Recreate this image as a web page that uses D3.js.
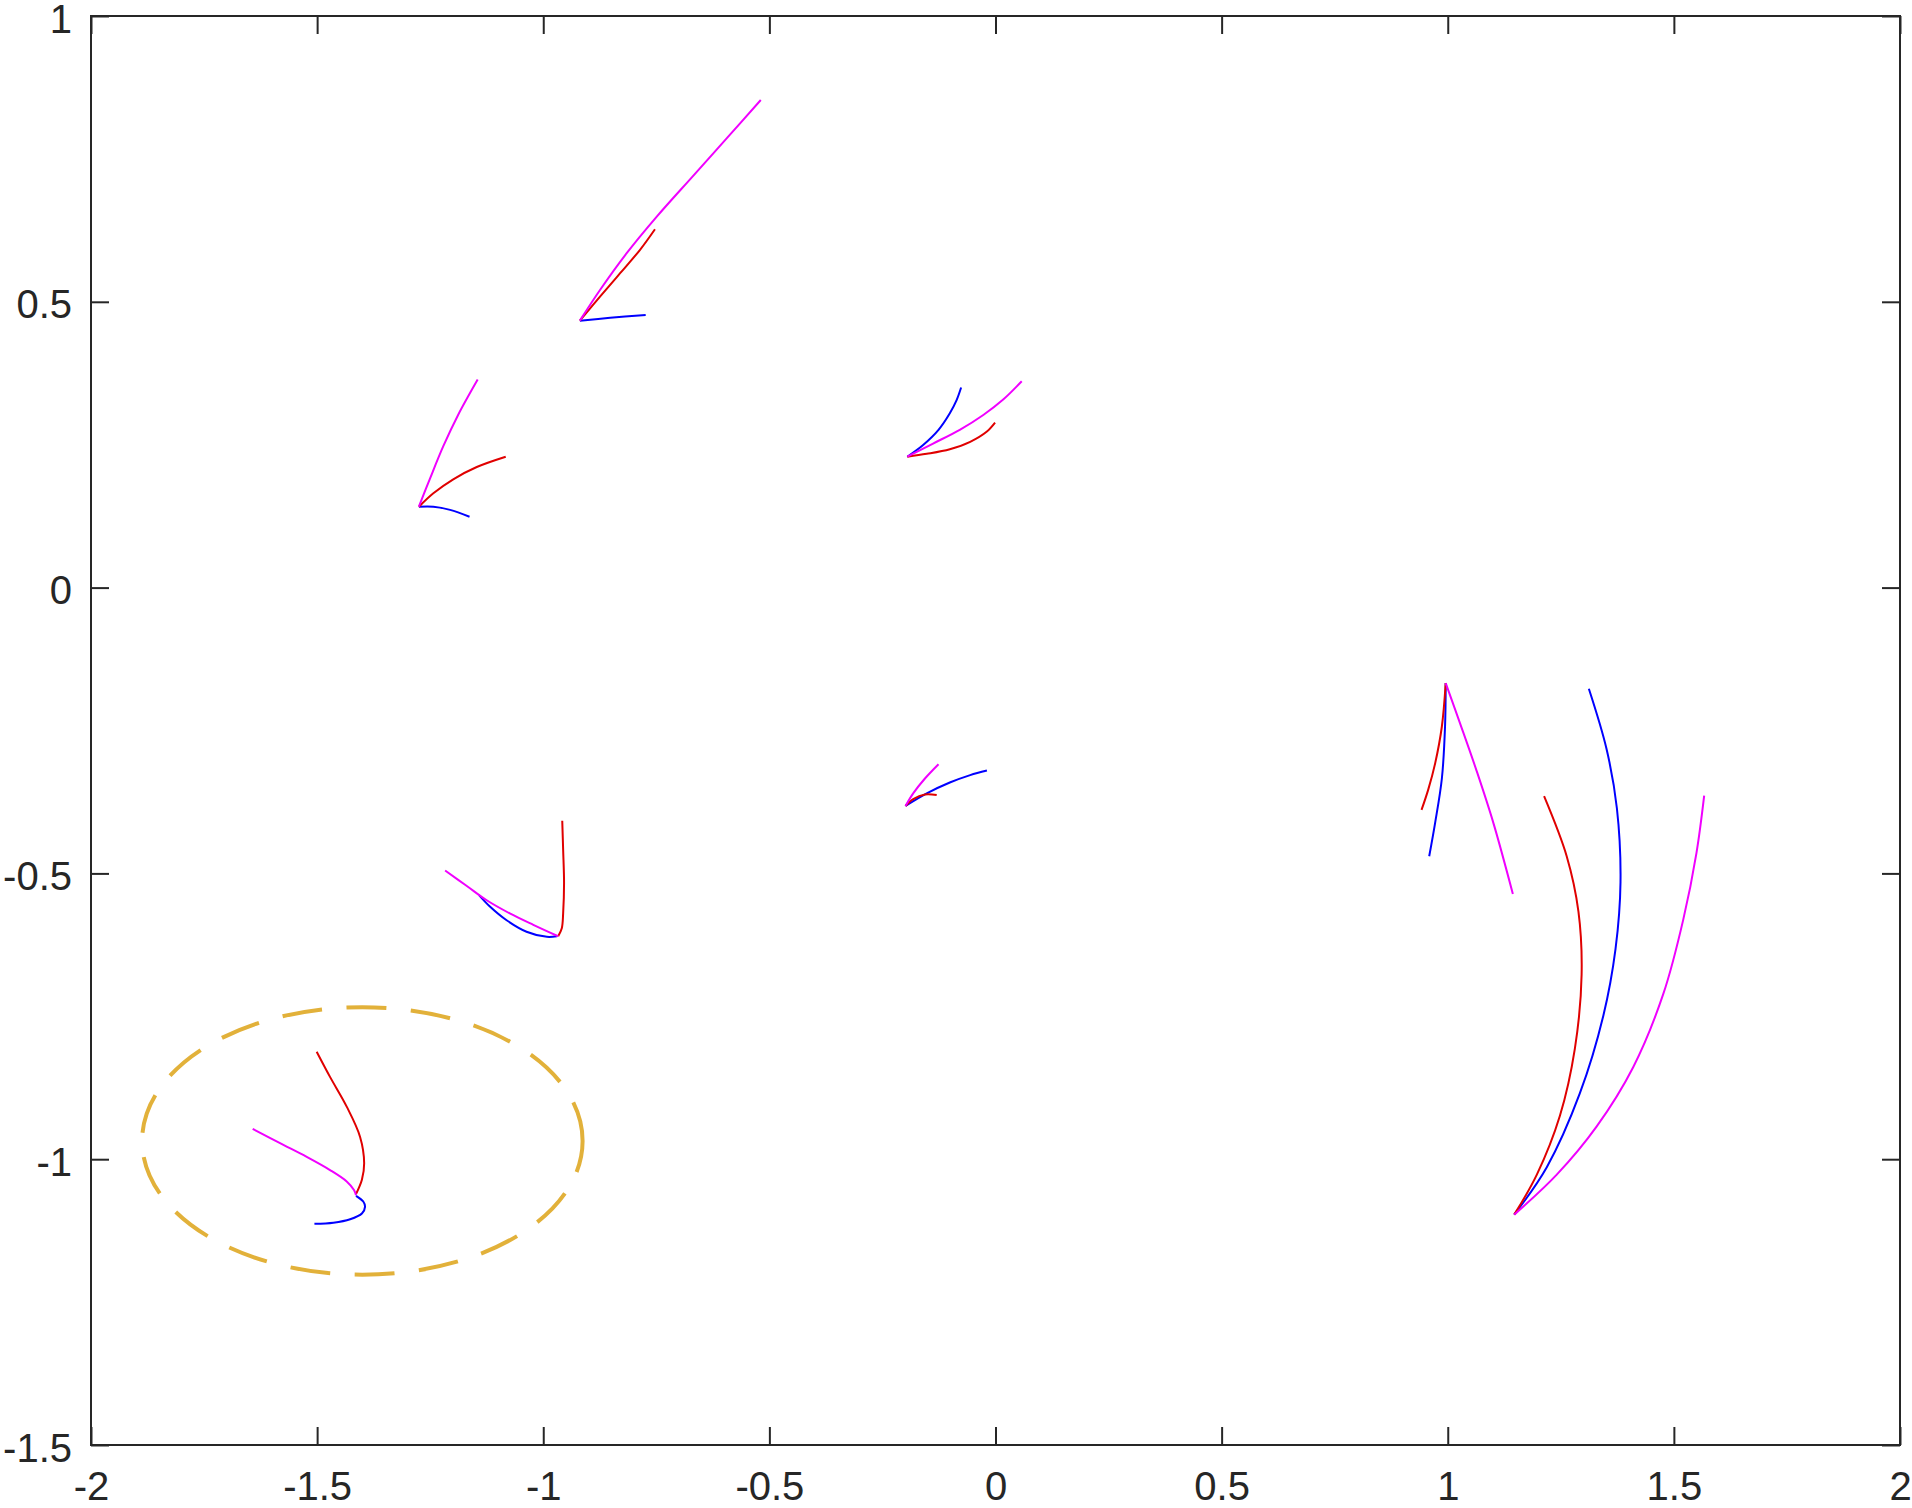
<!DOCTYPE html>
<html>
<head>
<meta charset="utf-8">
<script src="https://cdn.jsdelivr.net/npm/d3@7"></script>
<style>
  html, body { margin: 0; padding: 0; background: #fff; }
  svg { display: block; }
  text { font-family: 'Liberation Sans', Arial, Helvetica, sans-serif; }
</style>
</head>
<body>
<svg width="1912" height="1508"></svg>
<script>
const xTicks = [-2, -1.5, -1, -0.5, 0, 0.5, 1, 1.5, 2]
const xTickLabels = ['-2', '-1.5', '-1', '-0.5', '0', '0.5', '1', '1.5', '2']
const yTicks = [-1.5, -1, -0.5, 0, 0.5, 1]
const yTickLabels = ['-1.5', '-1', '-0.5', '0', '0.5', '1']

// each trajectory starts at the shared corner point of its group
const bluePaths = [
  [[-1.414, -1.064], [-1.398, -1.074], [-1.394, -1.083], [-1.401, -1.095], [-1.427, -1.105], [-1.464, -1.111], [-1.506, -1.113]],
  [[-0.970, -0.610], [-0.992, -0.611], [-1.037, -0.602], [-1.081, -0.582], [-1.118, -0.558], [-1.142, -0.538]],
  [[-0.199, -0.382], [-0.152, -0.360], [-0.101, -0.341], [-0.056, -0.328], [-0.019, -0.320]],
  [[-0.195, 0.229], [-0.160, 0.2495], [-0.126, 0.276], [-0.101, 0.305], [-0.086, 0.328], [-0.076, 0.350]],
  [[-1.275, 0.1415], [-1.243, 0.1415], [-1.206, 0.136], [-1.163, 0.124]],
  [[-0.919, 0.467], [-0.852, 0.472], [-0.7735, 0.477]],
  [[0.9955, -0.167], [0.994, -0.243], [0.987, -0.334], [0.972, -0.412], [0.959, -0.470]],
  [[1.147, -1.097], [1.219, -1.014], [1.292, -0.885], [1.344, -0.749], [1.371, -0.632], [1.382, -0.515], [1.374, -0.386], [1.351, -0.282], [1.312, -0.177]]
]
const redPaths = [
  [[-1.414, -1.061], [-1.401, -1.036], [-1.396, -1.007], [-1.405, -0.961], [-1.4346, -0.908], [-1.4715, -0.856], [-1.501, -0.812]],
  [[-0.967, -0.610], [-0.959, -0.596], [-0.956, -0.570], [-0.954, -0.517], [-0.956, -0.459], [-0.958, -0.408]],
  [[-0.199, -0.382], [-0.182, -0.370], [-0.156, -0.362], [-0.130, -0.363]],
  [[-0.195, 0.229], [-0.152, 0.234], [-0.101, 0.242], [-0.056, 0.255], [-0.019, 0.273], [-0.001, 0.2885]],
  [[-1.275, 0.1415], [-1.243, 0.165], [-1.199, 0.1895], [-1.147, 0.211], [-1.083, 0.229]],
  [[-0.919, 0.467], [-0.8745, 0.509], [-0.830, 0.550], [-0.786, 0.591], [-0.753, 0.627]],
  [[0.9955, -0.167], [0.987, -0.243], [0.972, -0.308], [0.957, -0.353], [0.942, -0.389]],
  [[1.147, -1.097], [1.197, -1.027], [1.248, -0.924], [1.281, -0.807], [1.296, -0.677], [1.289, -0.567], [1.263, -0.470], [1.213, -0.365]]
]
const magentaPaths = [
  [[-1.414, -1.063], [-1.4185, -1.054], [-1.4346, -1.039], [-1.4715, -1.019], [-1.523, -0.996], [-1.582, -0.972], [-1.6425, -0.947]],
  [[-0.967, -0.610], [-1.022, -0.590], [-1.074, -0.570], [-1.125, -0.547], [-1.169, -0.522], [-1.217, -0.495]],
  [[-0.199, -0.382], [-0.182, -0.360], [-0.156, -0.334], [-0.126, -0.309]],
  [[-0.195, 0.229], [-0.138, 0.252], [-0.079, 0.276], [-0.027, 0.302], [0.017, 0.329], [0.058, 0.361]],
  [[-1.275, 0.1415], [-1.250, 0.1916], [-1.221, 0.2474], [-1.188, 0.3025], [-1.145, 0.364]],
  [[-0.919, 0.467], [-0.8745, 0.5206], [-0.8155, 0.585], [-0.749, 0.649], [-0.668, 0.7208], [-0.594, 0.7862], [-0.519, 0.853]],
  [[0.9955, -0.167], [1.027, -0.237], [1.064, -0.321], [1.101, -0.412], [1.144, -0.536]],
  [[1.147, -1.097], [1.241, -1.027], [1.329, -0.943], [1.410, -0.839], [1.477, -0.710], [1.521, -0.580], [1.550, -0.464], [1.567, -0.364]]
]

const ellipseCenter = [-1.4, -0.968]
const ellipseRadii = [0.487, 0.234]

const svg = d3.select('svg')
const margin = { top: 16, right: 12, bottom: 63, left: 91 }
const width = 1912 - margin.left - margin.right
const height = 1508 - margin.top - margin.bottom

const x = d3.scaleLinear().domain([-2, 2]).range([0, width])
const y = d3.scaleLinear().domain([-1.5, 1]).range([height, 0])

const g = svg.append('g').attr('transform', `translate(${margin.left},${margin.top})`)

const line = d3
  .line()
  .x((d) => x(d[0]))
  .y((d) => y(d[1]))
  .curve(d3.curveCatmullRom.alpha(0.5))

const drawPaths = (paths, color) => {
  g.append('g')
    .selectAll('path')
    .data(paths)
    .join('path')
    .attr('d', line)
    .attr('fill', 'none')
    .attr('stroke', color)
    .attr('stroke-width', 2)
    .attr('stroke-linejoin', 'round')
}
drawPaths(bluePaths, '#0000ff')
drawPaths(redPaths, '#e00000')
drawPaths(magentaPaths, '#f000ff')

// dashed ellipse, drawn from its right end going up like the original
const ecx = x(ellipseCenter[0])
const ecy = y(ellipseCenter[1])
const erx = x(ellipseCenter[0] + ellipseRadii[0]) - ecx
const ery = ecy - y(ellipseCenter[1] + ellipseRadii[1])
g.append('path')
  .attr('d', `M${ecx + erx},${ecy} A${erx},${ery} 0 1 0 ${ecx - erx},${ecy} A${erx},${ery} 0 1 0 ${ecx + erx},${ecy}`)
  .attr('fill', 'none')
  .attr('stroke', '#e2b13a')
  .attr('stroke-width', 4)
  .attr('stroke-dasharray', '40,24.5')

// axes: ticks point inward on all four sides
const tickLen = 18
const styleAxis = (sel) => {
  sel.selectAll('.tick line').attr('stroke', '#262626').attr('stroke-width', 2)
  sel.select('.domain').remove()
  sel.selectAll('text')
    .attr('fill', '#262626')
    .style('font-size', '40px')
}

g.append('g')
  .attr('transform', `translate(0,${height})`)
  .call(d3.axisBottom(x).tickValues(xTicks).tickSize(-tickLen).tickPadding(0)
    .tickFormat((d, i) => xTickLabels[i]))
  .call(styleAxis)
  .call((s) => s.selectAll('text').attr('y', 55).attr('dy', null))

g.append('g')
  .call(d3.axisTop(x).tickValues(xTicks).tickSize(-tickLen).tickFormat(''))
  .call(styleAxis)

g.append('g')
  .call(d3.axisLeft(y).tickValues(yTicks).tickSize(-tickLen).tickPadding(0)
    .tickFormat((d, i) => yTickLabels[i]))
  .call(styleAxis)
  .call((s) => s.selectAll('text').attr('x', -19).attr('dy', '0.4em'))

g.append('g')
  .attr('transform', `translate(${width},0)`)
  .call(d3.axisRight(y).tickValues(yTicks).tickSize(-tickLen).tickFormat(''))
  .call(styleAxis)

g.append('rect')
  .attr('width', width)
  .attr('height', height)
  .attr('fill', 'none')
  .attr('stroke', '#262626')
  .attr('stroke-width', 2)
</script>
</body>
</html>
